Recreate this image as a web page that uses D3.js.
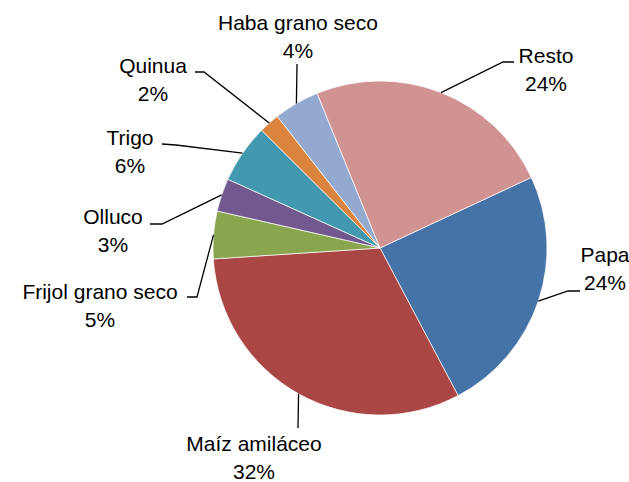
<!DOCTYPE html>
<html lang="es">
<head>
<meta charset="UTF-8">
<title>Superficie por cultivo</title>
<script src="https://d3js.org/d3.v7.min.js"></script>
<style>
    body {
        margin: 0;
        padding: 0;
        background: #fff;
    }
    #chart text {
        font-family: "Liberation Sans", Arial, sans-serif;
        font-size: 21px;
        fill: #000;
    }
</style>
</head>
<body>
<div id="chart"></div>
<script>
    // data (percent share), in drawing order
    const cultivos = ['Papa', 'Maíz amiláceo', 'Frijol grano seco', 'Olluco', 'Trigo', 'Quinua', 'Haba grano seco', 'Resto'];
    const valores = [24.2, 31.7, 4.6, 3.2, 5.7, 2.0, 4.4, 24.2];
    const colores = ['#4572A7', '#AA4643', '#89A54E', '#71588F', '#4198AF', '#DB843D', '#93A9CF', '#D19392'];

    // label placement (text centre x, first baseline y, leader elbow points)
    const etiquetas = [
        { x: 605, y: 262, leader: [[580, 291], [568, 291]] },
        { x: 254, y: 451, leader: [[298, 428]] },
        { x: 100, y: 299, leader: [[187, 297], [197, 297]] },
        { x: 113, y: 224, leader: [[150, 224], [162, 224]] },
        { x: 130, y: 145, leader: [[162, 144], [176, 145]] },
        { x: 153, y: 73, leader: [[195, 72], [204, 72]] },
        { x: 298, y: 30, leader: [[297, 64]] },
        { x: 546, y: 63, leader: [[514, 62], [503, 62]] }
    ];

    const width = 629;
    const height = 482;
    const cx = 380, cy = 248, radius = 167;
    const start = 65 * Math.PI / 180;

    const svg = d3.select('#chart')
        .append('svg')
        .attr('width', width)
        .attr('height', height);

    const pie = d3.pie()
        .sort(null)
        .startAngle(start)
        .endAngle(start + 2 * Math.PI)
        .value(d => d);

    const arc = d3.arc().innerRadius(0).outerRadius(radius);
    const edge = d3.arc().innerRadius(radius).outerRadius(radius);

    const arcs = pie(valores);
    const total = d3.sum(valores);

    const g = svg.append('g')
        .attr('transform', `translate(${cx},${cy})`);

    g.selectAll('path')
        .data(arcs)
        .enter()
        .append('path')
        .attr('d', arc)
        .attr('fill', (d, i) => colores[i])
        .attr('stroke', '#fff')
        .attr('stroke-width', 0.7);

    // leader lines
    const line = d3.line();
    svg.selectAll('.leader')
        .data(arcs)
        .enter()
        .append('path')
        .attr('class', 'leader')
        .attr('fill', 'none')
        .attr('stroke', '#000')
        .attr('stroke-width', 1.3)
        .attr('d', (d, i) => {
            const [px, py] = edge.centroid(d);
            const pts = etiquetas[i].leader.concat([[cx + px, cy + py]]);
            return line(pts);
        });

    // labels
    const lab = svg.selectAll('.lab')
        .data(arcs)
        .enter()
        .append('text')
        .attr('class', 'lab')
        .attr('text-anchor', 'middle')
        .attr('x', (d, i) => etiquetas[i].x)
        .attr('y', (d, i) => etiquetas[i].y);

    lab.append('tspan')
        .attr('x', (d, i) => etiquetas[i].x)
        .text((d, i) => cultivos[i]);

    lab.append('tspan')
        .attr('x', (d, i) => etiquetas[i].x)
        .attr('dy', 28)
        .text(d => Math.round(d.data / total * 100) + '%');
</script>
</body>
</html>
